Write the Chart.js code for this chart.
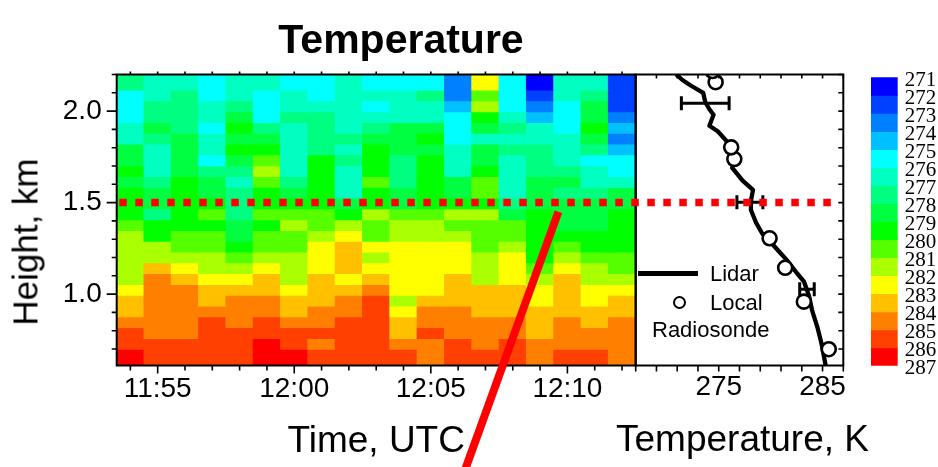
<!DOCTYPE html>
<html>
<head>
<meta charset="utf-8">
<script src="https://cdn.jsdelivr.net/npm/chart.js@4.4.0/dist/chart.umd.min.js"></script>
<style>
  html, body { margin: 0; padding: 0; background: #fff; }
  #wrap { position: relative; width: 938px; height: 467px; overflow: hidden; font-family: 'Liberation Sans', Arial, sans-serif; }
  canvas { position: absolute; left: 0; top: 0; }
  .txt { position: absolute; white-space: nowrap; color: #000; }
  .leg { font-size: 22px; line-height: 22px; }
</style>
</head>
<body>
<div id="wrap">
  <canvas id="heat" width="938" height="467"></canvas>
  <canvas id="prof" width="938" height="467"></canvas>
  <canvas id="cbar" width="938" height="467"></canvas>
  <div class="txt" style="left:401px;top:18.6px;transform:translateX(-50%);font-weight:bold;font-size:41px;line-height:41px">Temperature</div>
  <div class="txt" style="left:25px;top:242px;transform:translate(-50%,-50%) rotate(-90deg);font-size:35px;line-height:35px">Height, km</div>
  <div class="txt" style="left:742.5px;top:420px;transform:translateX(-50%);font-size:37px;line-height:37px">Temperature, K</div>
  <div style="position:absolute;left:638px;top:271.3px;width:60px;height:4.5px;background:#000"></div>
  <div class="txt leg" style="left:710px;top:263px">Lidar</div>
  <div style="position:absolute;left:673px;top:295.7px;width:9px;height:9px;border:2.5px solid #000;border-radius:50%;background:#fff"></div>
  <div class="txt leg" style="left:710px;top:292px">Local</div>
  <div class="txt leg" style="left:652px;top:319px">Radiosonde</div>
</div>
<script>
// time axis (one lidar profile per minute)
var timeLabels = ['11:54', '11:55', '11:56', '11:57', '11:58', '11:59', '12:00', '12:01', '12:02', '12:03',
                  '12:04', '12:05', '12:06', '12:07', '12:08', '12:09', '12:10', '12:11', '12:12'];
var timeTickLabels = ['11:55', '12:00', '12:05', '12:10'];

// range gate edges in km, bottom to top
var heightEdges = [0.58, 0.699, 0.758, 0.817, 0.876, 0.935, 0.994, 1.053, 1.112, 1.171, 1.230, 1.289, 1.348, 1.407,
                   1.466, 1.525, 1.584, 1.643, 1.702, 1.761, 1.820, 1.879, 1.938, 1.997, 2.056, 2.115, 2.25];
var heightTicks = [0.7, 0.8, 0.9, 1.0, 1.1, 1.2, 1.3, 1.4, 1.5, 1.6, 1.7, 1.8, 1.9, 2.0, 2.1, 2.2];
var heightTickLabels = [1.0, 1.5, 2.0];

// lidar temperature (K), top gate first
var tempRows = [
  [277.5,276.5,276.5,275.5,276.5,276.5,275.5,275.5,276.5,275.5,275.5,275.5,273.5,282.5,275.5,271.5,276.5,276.5,272.5],
  [275.5,276.5,277.5,275.5,276.5,275.5,276.5,275.5,276.5,276.5,276.5,277.5,273.5,280.5,275.5,272.5,276.5,277.5,272.5],
  [275.5,277.5,277.5,276.5,277.5,275.5,276.5,276.5,276.5,275.5,276.5,276.5,274.5,281.5,275.5,273.5,275.5,278.5,272.5],
  [275.5,277.5,277.5,276.5,278.5,275.5,277.5,277.5,276.5,276.5,276.5,276.5,275.5,279.5,276.5,274.5,275.5,278.5,273.5],
  [276.5,278.5,277.5,275.5,279.5,277.5,276.5,277.5,276.5,277.5,278.5,278.5,275.5,278.5,277.5,276.5,275.5,279.5,274.5],
  [276.5,277.5,278.5,276.5,278.5,278.5,276.5,277.5,277.5,278.5,278.5,279.5,275.5,276.5,276.5,276.5,276.5,278.5,273.5],
  [278.5,276.5,278.5,276.5,279.5,279.5,276.5,277.5,276.5,279.5,278.5,278.5,276.5,278.5,277.5,277.5,276.5,277.5,274.5],
  [278.5,276.5,278.5,275.5,278.5,280.5,276.5,279.5,277.5,279.5,277.5,279.5,276.5,278.5,276.5,277.5,276.5,275.5,275.5],
  [279.5,276.5,278.5,277.5,277.5,281.5,276.5,279.5,276.5,279.5,277.5,279.5,276.5,279.5,276.5,277.5,277.5,276.5,275.5],
  [278.5,277.5,279.5,278.5,276.5,280.5,277.5,279.5,276.5,280.5,277.5,279.5,278.5,280.5,276.5,278.5,278.5,276.5,276.5],
  [279.5,278.5,279.5,278.5,277.5,279.5,278.5,279.5,276.5,279.5,278.5,279.5,278.5,280.5,276.5,278.5,277.5,277.5,278.5],
  [279.5,278.5,279.5,279.5,277.5,279.5,279.5,279.5,278.5,279.5,278.5,279.5,279.5,279.5,277.5,278.5,278.5,278.5,278.5],
  [279.5,277.5,279.5,280.5,277.5,280.5,280.5,280.5,279.5,281.5,280.5,280.5,281.5,281.5,278.5,279.5,278.5,278.5,279.5],
  [280.5,279.5,279.5,279.5,278.5,279.5,281.5,280.5,281.5,280.5,281.5,281.5,280.5,280.5,280.5,279.5,278.5,278.5,279.5],
  [281.5,279.5,280.5,280.5,278.5,280.5,280.5,281.5,282.5,280.5,281.5,281.5,281.5,280.5,280.5,279.5,279.5,279.5,279.5],
  [281.5,281.5,280.5,280.5,279.5,280.5,280.5,282.5,283.5,282.5,282.5,282.5,282.5,280.5,281.5,279.5,280.5,279.5,279.5],
  [281.5,281.5,281.5,281.5,280.5,281.5,281.5,282.5,283.5,281.5,282.5,282.5,282.5,281.5,282.5,279.5,281.5,280.5,280.5],
  [281.5,283.5,282.5,281.5,281.5,282.5,281.5,282.5,283.5,282.5,282.5,282.5,282.5,281.5,282.5,280.5,282.5,281.5,280.5],
  [281.5,284.5,283.5,282.5,282.5,283.5,281.5,283.5,282.5,283.5,282.5,282.5,283.5,281.5,282.5,281.5,283.5,281.5,281.5],
  [282.5,284.5,284.5,283.5,283.5,283.5,282.5,283.5,283.5,284.5,282.5,282.5,283.5,283.5,283.5,282.5,283.5,282.5,282.5],
  [283.5,284.5,284.5,283.5,284.5,284.5,283.5,283.5,284.5,285.5,281.5,283.5,283.5,283.5,283.5,282.5,283.5,282.5,283.5],
  [283.5,284.5,284.5,284.5,284.5,284.5,283.5,284.5,284.5,285.5,282.5,284.5,284.5,283.5,283.5,283.5,283.5,283.5,283.5],
  [284.5,284.5,284.5,285.5,284.5,285.5,284.5,284.5,285.5,285.5,283.5,284.5,284.5,284.5,284.5,283.5,284.5,283.5,284.5],
  [285.5,284.5,284.5,285.5,285.5,285.5,285.5,285.5,285.5,285.5,283.5,285.5,284.5,284.5,284.5,283.5,284.5,284.5,284.5],
  [285.5,285.5,285.5,285.5,285.5,286.5,285.5,284.5,285.5,285.5,284.5,284.5,285.5,284.5,285.5,284.5,284.5,284.5,284.5],
  [286.5,285.5,285.5,285.5,285.5,286.5,286.5,285.5,285.5,285.5,285.5,284.5,285.5,285.5,285.5,284.5,285.5,285.5,284.5]
];

// colour scale
var colorLevels = [271, 272, 273, 274, 275, 276, 277, 278, 279, 280, 281, 282, 283, 284, 285, 286, 287];
var levelColors = ['rgb(0,0,255)', 'rgb(0,64,255)', 'rgb(0,128,255)', 'rgb(0,192,255)', 'rgb(0,255,255)',
                   'rgb(0,255,192)', 'rgb(0,255,128)', 'rgb(0,255,64)', 'rgb(0,255,0)', 'rgb(85,255,0)',
                   'rgb(170,255,0)', 'rgb(255,255,0)', 'rgb(255,192,0)', 'rgb(255,128,0)', 'rgb(255,64,0)', 'rgb(255,0,0)'];

// profile panel
var lidarHeight = [0.61, 0.73, 0.82, 0.91, 0.99, 1.07, 1.11, 1.19, 1.24, 1.29, 1.33, 1.39, 1.46, 1.51, 1.57,
                   1.62, 1.69, 1.74, 1.80, 1.84, 1.89, 1.92, 1.98, 2.01, 2.05, 2.10, 2.14, 2.17, 2.20];
var lidarTemp = [285.3, 284.9, 284.5, 284.0, 283.7, 283.2, 282.6, 281.5, 280.7, 279.9, 279.2, 278.6, 278.1, 278.1, 278.3,
                 277.3, 276.3, 276.5, 276.2, 275.7, 274.9, 274.1, 274.5, 274.1, 273.7, 273.5, 272.3, 271.5, 270.9];
var sondeHeight = [0.699, 0.959, 1.144, 1.305, 1.738, 1.802, 2.158, 2.219];
var sondeTemp = [285.6, 283.2, 281.4, 279.9, 276.5, 276.2, 274.7, 274.4];
var errHeight = [1.026, 1.502, 2.043];
var errTemp = [283.5, 278.0, 273.7];
var errHalf = [0.7, 1.25, 2.3];
var tempTicks = [267, 269, 271, 273, 275, 277, 279, 281, 283, 285, 287];
var tempTickLabels = [275, 285];

// annotations: boundary layer top and the slanted marker
var blTopHeight = 1.5;
var blEndTemp = 285.9;
var slashFrom = {index: 15.67, height: 1.45};
var slashTo = {index: 12.18, height: 0.01};

var sans = "'Liberation Sans', Arial, sans-serif";
var serif = "'Liberation Serif', 'Times New Roman', serif";

function colorFor(t) {
  for (var i = 0; i < levelColors.length; i++) {
    if (t >= colorLevels[i] && t < colorLevels[i + 1]) return levelColors[i];
  }
  return t < colorLevels[0] ? levelColors[0] : levelColors[levelColors.length - 1];
}

// frame round the plot area plus tick marks taken from the scales
var frameTicks = {
  id: 'frameTicks',
  afterDatasetsDraw: function(chart, args, opts) {
    var ctx = chart.ctx, a = chart.chartArea;
    ctx.save();
    ctx.strokeStyle = '#000';
    ctx.lineWidth = 2;
    ctx.strokeRect(a.left, a.top, a.right - a.left, a.bottom - a.top);
    ctx.lineWidth = 1.6;
    (opts.marks || []).forEach(function(m) {
      var s = chart.scales[m.scale];
      ctx.beginPath();
      s.ticks.forEach(function(t) {
        var p = s.getPixelForValue(t.value);
        var len = t.label ? m.major : m.minor;
        var sgn = m.out ? 1 : -1;
        if (m.edge === 'bottom') { ctx.moveTo(p, a.bottom); ctx.lineTo(p, a.bottom + sgn * len); }
        if (m.edge === 'top') { ctx.moveTo(p, a.top); ctx.lineTo(p, a.top - sgn * len); }
        if (m.edge === 'left') { ctx.moveTo(a.left, p); ctx.lineTo(a.left - sgn * len, p); }
        if (m.edge === 'right') { ctx.moveTo(a.right, p); ctx.lineTo(a.right + sgn * len, p); }
      });
      ctx.stroke();
    });
    ctx.restore();
  }
};

var slashPlugin = {
  id: 'slash',
  afterDraw: function(chart) {
    var ctx = chart.ctx, x = chart.scales.x, y = chart.scales.y;
    ctx.save();
    ctx.strokeStyle = 'rgb(255,0,0)';
    ctx.lineWidth = 8;
    ctx.beginPath();
    ctx.moveTo(x.getPixelForValue(slashFrom.index), y.getPixelForValue(slashFrom.height));
    ctx.lineTo(x.getPixelForValue(slashTo.index), y.getPixelForValue(slashTo.height));
    ctx.stroke();
    ctx.restore();
  }
};

var errorBars = {
  id: 'errorBars',
  afterDatasetsDraw: function(chart) {
    var ctx = chart.ctx, x = chart.scales.x, y = chart.scales.y;
    ctx.save();
    ctx.strokeStyle = '#000';
    ctx.lineWidth = 3;
    ctx.beginPath();
    for (var i = 0; i < errHeight.length; i++) {
      var py = y.getPixelForValue(errHeight[i]);
      var x0 = x.getPixelForValue(errTemp[i] - errHalf[i]);
      var x1 = x.getPixelForValue(errTemp[i] + errHalf[i]);
      ctx.moveTo(x0, py); ctx.lineTo(x1, py);
      ctx.moveTo(x0, py - 7); ctx.lineTo(x0, py + 7);
      ctx.moveTo(x1, py - 7); ctx.lineTo(x1, py + 7);
    }
    ctx.stroke();
    ctx.restore();
  }
};

var blLine = {
  id: 'blLine',
  afterDatasetsDraw: function(chart) {
    var ctx = chart.ctx, x = chart.scales.x, y = chart.scales.y;
    var start = heatChart.chartArea.left + 2.6;
    var py = y.getPixelForValue(blTopHeight);
    ctx.save();
    ctx.strokeStyle = 'rgb(255,0,0)';
    ctx.lineWidth = 7.5;
    ctx.setLineDash([7.5, 8.5]);
    ctx.beginPath();
    ctx.moveTo(start, py);
    ctx.lineTo(x.getPixelForValue(blEndTemp), py);
    ctx.stroke();
    ctx.restore();
  }
};

// heat map: one floating bar per gate and minute
var heatSets = tempRows.map(function(row, r) {
  var k = heightEdges.length - 2 - r;
  return {
    data: row.map(function() { return [heightEdges[k], heightEdges[k + 1]]; }),
    backgroundColor: row.map(colorFor),
    grouped: false,
    barPercentage: 1,
    categoryPercentage: 1,
    borderWidth: 0,
    inflateAmount: 0.5,
    clip: 0
  };
});

var heatChart = new Chart(document.getElementById('heat'), {
  type: 'bar',
  data: {labels: timeLabels, datasets: heatSets},
  options: {
    responsive: false, animation: false, devicePixelRatio: 1,
    layout: {padding: {left: 0, top: 74.5, right: 938 - 635.7, bottom: 0}},
    plugins: {
      legend: {display: false}, tooltip: {enabled: false},
      frameTicks: {marks: [
        {scale: 'x', edge: 'bottom', out: true, minor: 5, major: 8},
        {scale: 'x', edge: 'top', out: true, minor: 3, major: 3},
        {scale: 'y', edge: 'left', out: true, minor: 5, major: 10}
      ]}
    },
    scales: {
      x: {
        type: 'category', offset: true,
        grid: {display: false, drawTicks: false}, border: {display: false},
        ticks: {
          autoSkip: false, maxRotation: 0, padding: 7, color: '#000', font: {family: sans, size: 28},
          callback: function(v) { var l = this.getLabelForValue(v); return timeTickLabels.indexOf(l) >= 0 ? l : ''; }
        },
        title: {display: true, text: 'Time, UTC', color: '#000', font: {family: sans, size: 37}, padding: {top: 0, bottom: 3}},
        afterFit: function(s) { s.height = 467 - 365.5; }
      },
      y: {
        type: 'linear', min: 0.61, max: 2.2,
        grid: {display: false, drawTicks: false}, border: {display: false},
        afterBuildTicks: function(s) { s.ticks = heightTicks.map(function(v) { return {value: v}; }); },
        ticks: {
          autoSkip: false, padding: 15, color: '#000', font: {family: sans, size: 28},
          callback: function(v) {
            return heightTickLabels.some(function(h) { return Math.abs(h - v) < 1e-6; }) ? v.toFixed(1) : '';
          }
        },
        afterFit: function(s) { s.width = 116.7; }
      }
    }
  },
  plugins: [frameTicks, slashPlugin]
});

var profChart = new Chart(document.getElementById('prof'), {
  type: 'scatter',
  data: {
    datasets: [
      {
        data: sondeTemp.map(function(t, i) { return {x: t, y: sondeHeight[i]}; }),
        pointRadius: 7, pointBorderWidth: 2.6, pointBackgroundColor: '#fff', pointBorderColor: '#000', clip: 0
      },
      {
        data: lidarTemp.map(function(t, i) { return {x: t, y: lidarHeight[i]}; }),
        showLine: true, borderColor: '#000', borderWidth: 4.3, pointRadius: 0,
        borderJoinStyle: 'round', clip: 0
      }
    ]
  },
  options: {
    responsive: false, animation: false, devicePixelRatio: 1,
    layout: {padding: {left: 635.7, top: 74.5, right: 938 - 843.3, bottom: 0}},
    plugins: {
      legend: {display: false}, tooltip: {enabled: false},
      frameTicks: {marks: [
        {scale: 'x', edge: 'bottom', out: true, minor: 6, major: 6},
        {scale: 'x', edge: 'top', out: false, minor: 4, major: 4},
        {scale: 'y', edge: 'right', out: false, minor: 5, major: 5}
      ]}
    },
    scales: {
      x: {
        type: 'linear', min: 267, max: 287,
        grid: {display: false, drawTicks: false}, border: {display: false},
        afterBuildTicks: function(s) { s.ticks = tempTicks.map(function(v) { return {value: v}; }); },
        ticks: {
          autoSkip: false, maxRotation: 0, padding: 5, color: '#000', font: {family: sans, size: 28},
          callback: function(v) { return tempTickLabels.indexOf(v) >= 0 ? String(v) : ''; }
        },
        afterFit: function(s) { s.height = 467 - 365.5; }
      },
      y: {
        type: 'linear', position: 'right', min: 0.61, max: 2.2,
        grid: {display: false, drawTicks: false}, border: {display: false},
        afterBuildTicks: function(s) { s.ticks = heightTicks.map(function(v) { return {value: v}; }); },
        ticks: {display: false},
        afterFit: function(s) { s.width = 0; }
      }
    }
  },
  plugins: [frameTicks, errorBars, blLine]
});

var cbarChart = new Chart(document.getElementById('cbar'), {
  type: 'bar',
  data: {
    labels: [''],
    datasets: levelColors.map(function(c, i) {
      return {
        data: [[colorLevels[i], colorLevels[i + 1]]], backgroundColor: c, grouped: false,
        barPercentage: 1, categoryPercentage: 1, borderWidth: 0, inflateAmount: 0.5
      };
    })
  },
  options: {
    responsive: false, animation: false, devicePixelRatio: 1,
    layout: {padding: {left: 871, top: 77.3, right: 0, bottom: 467 - 365.7}},
    plugins: {legend: {display: false}, tooltip: {enabled: false}},
    scales: {
      x: {display: false},
      y: {
        position: 'right', reverse: true, min: 271, max: 287,
        grid: {display: false, drawTicks: false}, border: {display: false},
        afterBuildTicks: function(s) { s.ticks = colorLevels.map(function(v) { return {value: v}; }); },
        ticks: {autoSkip: false, padding: 7, labelOffset: 3, color: '#000', font: {family: serif, size: 21}},
        afterFit: function(s) { s.width = 938 - 897.7; }
      }
    }
  }
});
</script>
</body>
</html>
